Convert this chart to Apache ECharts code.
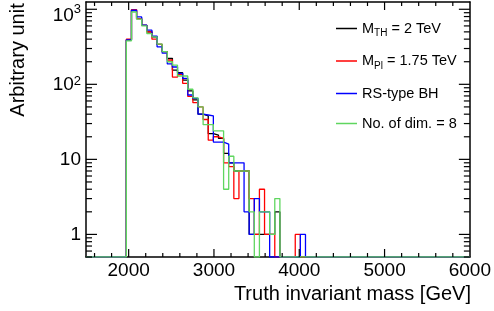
<!DOCTYPE html>
<html>
<head>
<meta charset="utf-8">
<script src="https://cdn.jsdelivr.net/npm/echarts@6/dist/echarts.min.js"></script>
<style>
  html, body { margin: 0; padding: 0; background: #fff; }
  #chart { width: 494px; height: 311px; }
</style>
</head>
<body>
<div id="chart"></div>
<script>
// histogram binning (GeV)
const binStart = 1973;
const binWidth = 60;

const seriesNames = ['M_TH = 2 TeV', 'M_Pl = 1.75 TeV', 'RS-type BH', 'No. of dim. = 8'];
const mTh2   = [390, 960, 750, 610, 500, 430, 340, 272, 222, 155, 143, 114, 82, 62, 40, 38, 22, 21, 19, 12, 9, 7, 7, 7, 1, 1, 1, 1, 1, 2, 0, 0, 0, 0, 0];
const mPl175 = [400, 990, 750, 610, 500, 400, 340, 272, 211, 125, 135, 103, 69, 57, 50, 34, 18, 20, 19, 9, 8, 3, 7, 7, 3, 1, 4, 1, 1, 0, 0, 0, 0, 1, 0];
const rsBH   = [390, 970, 790, 614, 527, 440, 316, 260, 187, 170, 140, 120, 72, 65, 40, 39, 38, 17, 17, 16, 9, 9, 9, 2, 1, 3, 2, 2, 0, 0, 0, 0, 0, 0, 1];
const nDim8  = [380, 920, 740, 600, 475, 430, 343, 272, 200, 180, 129, 129, 86, 66, 50, 29, 29, 24, 24, 4, 11, 7, 7, 7, 2, 0, 2, 2, 1, 3, 0, 0, 0, 0, 0];
const colors = ['#000000', '#ff0000', '#0000ff', '#5fd65f'];

const xTickLabels = [2000, 3000, 4000, 5000, 6000];
const yTickLabels = [1, 10, 100, 1000];
const xMin = 1500, xMax = 6000, yMin = 0.5, yMax = 1250;

const font = 'Liberation Sans';

// outline of a histogram: zero bins sit on the frame bottom like ROOT does
function steps(counts) {
  const pts = [[xMin, yMin], [binStart, yMin]];
  counts.forEach((c, i) => {
    const v = Math.max(c, yMin);
    const x0 = binStart + i * binWidth;
    pts.push([x0, v], [x0 + binWidth, v]);
  });
  pts.push([binStart + counts.length * binWidth, yMin], [xMax, yMin]);
  return pts;
}

// tick marks: [x, y, length, dir] dir 0 = x axis tick, 1 = y axis tick
const tickData = [];
for (let v = 1600; v < xMax; v += 200) {
  tickData.push([v, yMin, xTickLabels.includes(v) ? 8 : 4, 0]);
}
[0.1, 1, 10, 100, 1000].forEach(d => {
  for (let m = 1; m <= 9; m++) {
    const v = d * m;
    if (v >= yMin && v <= yMax) tickData.push([xMin, v, m === 1 ? 11 : 6, 1]);
  }
});

const legendText = {
  'M_TH = 2 TeV': '{t|M}{s|TH}{t| = 2 TeV}',
  'M_Pl = 1.75 TeV': '{t|M}{s|Pl}{t| = 1.75 TeV}',
  'RS-type BH': '{t|RS-type BH}',
  'No. of dim. = 8': '{t|No. of dim. = 8}'
};

const chart = echarts.init(document.getElementById('chart'));

const histSeries = [mTh2, mPl175, rsBH, nDim8].map((d, i) => ({
  name: seriesNames[i],
  type: 'line',
  data: steps(d),
  symbol: 'none',
  lineStyle: { color: colors[i], width: 1.3 },
  itemStyle: { color: colors[i] },
  silent: true
}));

chart.setOption({
  animation: false,
  grid: { left: 86, right: 22, top: 2, bottom: 54 },
  legend: {
    orient: 'vertical',
    left: 331,
    top: 16,
    icon: 'rect',
    itemWidth: 21,
    itemHeight: 1.5,
    itemGap: 15,
    data: seriesNames,
    formatter: name => legendText[name],
    textStyle: {
      fontFamily: font,
      color: '#000',
      rich: {
        t: { fontFamily: font, fontSize: 14.5, lineHeight: 20, verticalAlign: 'middle', color: '#000' },
        s: { fontFamily: font, fontSize: 10, lineHeight: 10, verticalAlign: 'bottom', color: '#000' }
      }
    }
  },
  xAxis: [
    {
      type: 'value', position: 'bottom', min: xMin, max: xMax,
      axisLine: { lineStyle: { color: '#000', width: 1.5 } },
      axisTick: { show: false },
      splitLine: { show: false },
      axisLabel: {
        customValues: xTickLabels,
        formatter: v => String(v),
        margin: 4,
        fontFamily: font, fontSize: 19, color: '#000'
      }
    },
    {
      type: 'value', position: 'top', min: xMin, max: xMax,
      axisLine: { lineStyle: { color: '#000', width: 1.5 } },
      axisTick: { show: false }, axisLabel: { show: false }, splitLine: { show: false }
    }
  ],
  yAxis: [
    {
      type: 'log', logBase: 10, position: 'left', min: yMin, max: yMax,
      axisLine: { lineStyle: { color: '#000', width: 1.5 } },
      axisTick: { show: false },
      splitLine: { show: false },
      axisLabel: {
        margin: 5,
        formatter: v => {
          const e = Math.log10(v);
          const n = Math.round(e);
          if (Math.abs(e - n) > 1e-6 || n < 0) return '';
          if (n === 0) return '{b|1}';
          if (n === 1) return '{b|10}';
          if (n === 3) return '{hb|10}{hp|3}';
          return '{b|10}{p|' + n + '}';
        },
        rich: {
          b: { fontFamily: font, fontSize: 19, lineHeight: 19, verticalAlign: 'bottom', color: '#000' },
          p: { fontFamily: font, fontSize: 13, lineHeight: 12, verticalAlign: 'top', color: '#000' },
          hb: { fontFamily: font, fontSize: 19, lineHeight: 19, verticalAlign: 'bottom', color: '#000' },
          hp: { fontFamily: font, fontSize: 13, lineHeight: 32, verticalAlign: 'middle', color: '#000' }
        }
      }
    },
    {
      type: 'log', logBase: 10, position: 'right', min: yMin, max: yMax,
      axisLine: { lineStyle: { color: '#000', width: 1.5 } },
      axisTick: { show: false }, axisLabel: { show: false }, splitLine: { show: false }
    }
  ],
  graphic: [
    {
      type: 'text', x: 471, y: 294,
      style: { text: 'Truth invariant mass [GeV]', font: '20px "Liberation Sans"', fill: '#000', textAlign: 'right', textVerticalAlign: 'middle' }
    },
    {
      type: 'text', x: 18, y: 60, rotation: Math.PI / 2,
      style: { text: 'Arbitrary unit', font: '20px "Liberation Sans"', fill: '#000', textAlign: 'center', textVerticalAlign: 'middle' }
    }
  ],
  series: histSeries.concat([{
    name: 'ticks',
    type: 'custom',
    data: tickData,
    silent: true,
    z: 5,
    renderItem: (params, api) => {
      const p = api.coord([api.value(0), api.value(1)]);
      const len = api.value(2);
      const cs = params.coordSys;
      const st = { stroke: '#000', lineWidth: 1.2 };
      if (api.value(3) === 0) {
        const bot = cs.y + cs.height;
        return { type: 'group', children: [
          { type: 'line', shape: { x1: p[0], y1: bot, x2: p[0], y2: bot - len }, style: st },
          { type: 'line', shape: { x1: p[0], y1: cs.y, x2: p[0], y2: cs.y + len }, style: st }
        ] };
      }
      const right = cs.x + cs.width;
      return { type: 'group', children: [
        { type: 'line', shape: { x1: cs.x, y1: p[1], x2: cs.x + len, y2: p[1] }, style: st },
        { type: 'line', shape: { x1: right, y1: p[1], x2: right - len, y2: p[1] }, style: st }
      ] };
    }
  }])
});
</script>
</body>
</html>
